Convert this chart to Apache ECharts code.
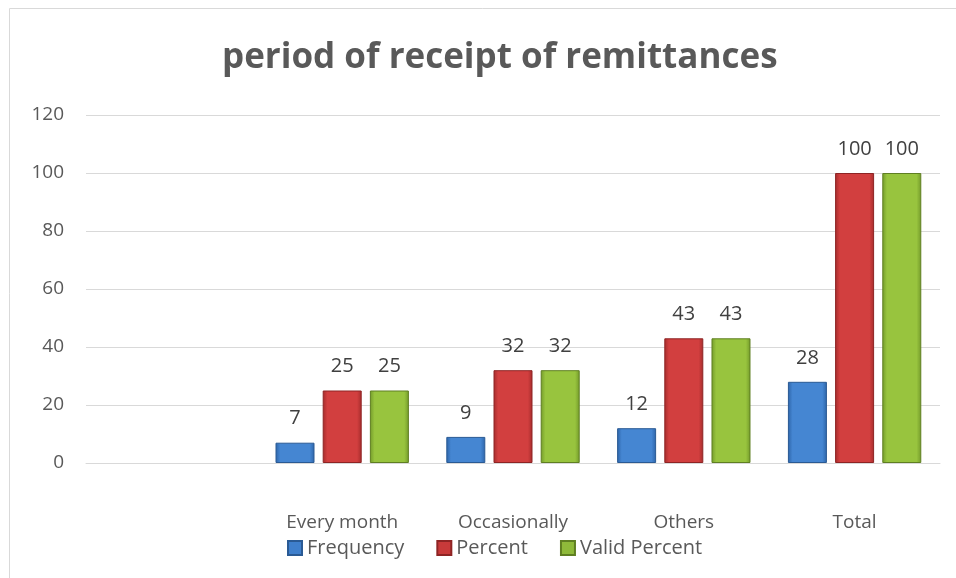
<!DOCTYPE html>
<html>
<head>
<meta charset="utf-8">
<script src="https://cdn.jsdelivr.net/npm/echarts@6/dist/echarts.min.js"></script>
<style>
html,body{margin:0;padding:0;background:#fff;}
#c{width:956px;height:578px;}
</style>
</head>
<body>
<div id="c"></div>
<script>
var categories = ['', 'Every month', 'Occasionally', 'Others', 'Total'];
var frequency = [null, 7, 9, 12, 28];
var percent = [null, 25, 32, 43, 100];
var validPercent = [null, 25, 32, 43, 100];
var yTicks = [0, 20, 40, 60, 80, 100, 120];

function grad(edge, mid) {
  return new echarts.graphic.LinearGradient(0, 0, 1, 0, [
    {offset: 0, color: edge},
    {offset: 0.12, color: mid},
    {offset: 0.88, color: mid},
    {offset: 1, color: edge}
  ]);
}
var FONT = '"Open Sans", "Noto Sans", sans-serif';
var chart = echarts.init(document.getElementById('c'), null, {renderer: 'canvas'});
function mk(name, data, edge, mid, border) {
  return {
    name: name, type: 'bar', data: data,
    barWidth: 39, barGap: '21%',
    itemStyle: {color: grad(edge, mid), borderColor: border, borderWidth: 1},
    label: {show: true, position: 'top', distance: 14, color: '#404040', fontSize: 20, fontFamily: FONT}
  };
}
chart.setOption({
  animation: false,
  title: {
    text: 'period of receipt of remittances', left: 217, top: 36,
    textStyle: {fontSize: 35, fontWeight: 'bold', color: '#595959', fontFamily: FONT}
  },
  graphic: [{
    type: 'polyline', silent: true,
    shape: {points: [[9.5, 578], [9.5, 8.5], [956, 8.5]]},
    style: {stroke: '#d9d9d9', lineWidth: 1, fill: null}
  }],
  legend: {
    top: 533, left: 282, itemWidth: 14, itemHeight: 14, itemGap: 32,
    icon: 'rect',
    textStyle: {fontSize: 20, color: '#595959', fontFamily: FONT},
    data: [
      {name: 'Frequency', itemStyle: {color: '#3f7fcc', borderColor: '#2a5a94'}},
      {name: 'Percent', itemStyle: {color: '#c83a3a', borderColor: '#8e2424'}},
      {name: 'Valid Percent', itemStyle: {color: '#8fba3a', borderColor: '#5f7f22'}}
    ]
  },
  grid: {left: 86, right: 16, top: 115, bottom: 115, containLabel: false},
  xAxis: {
    type: 'category', data: categories,
    axisLine: {lineStyle: {color: '#d9d9d9', width: 1}},
    axisTick: {show: false},
    axisLabel: {margin: 50, fontSize: 19, color: '#595959', fontFamily: FONT, interval: 0}
  },
  yAxis: {
    type: 'value', min: yTicks[0], max: yTicks[yTicks.length - 1], interval: 20,
    axisLine: {show: false}, axisTick: {show: false},
    splitLine: {lineStyle: {color: '#d9d9d9', width: 1}},
    axisLabel: {margin: 22, fontSize: 19, color: '#595959', fontFamily: FONT}
  },
  series: [
    mk('Frequency', frequency, '#2d64a8', '#4586d2', '#2a5a94'),
    mk('Percent', percent, '#a52c2c', '#d23f3f', '#8e2424'),
    mk('Valid Percent', validPercent, '#739a2a', '#98c43e', '#5f7f22')
  ]
});
</script>
</body>
</html>
